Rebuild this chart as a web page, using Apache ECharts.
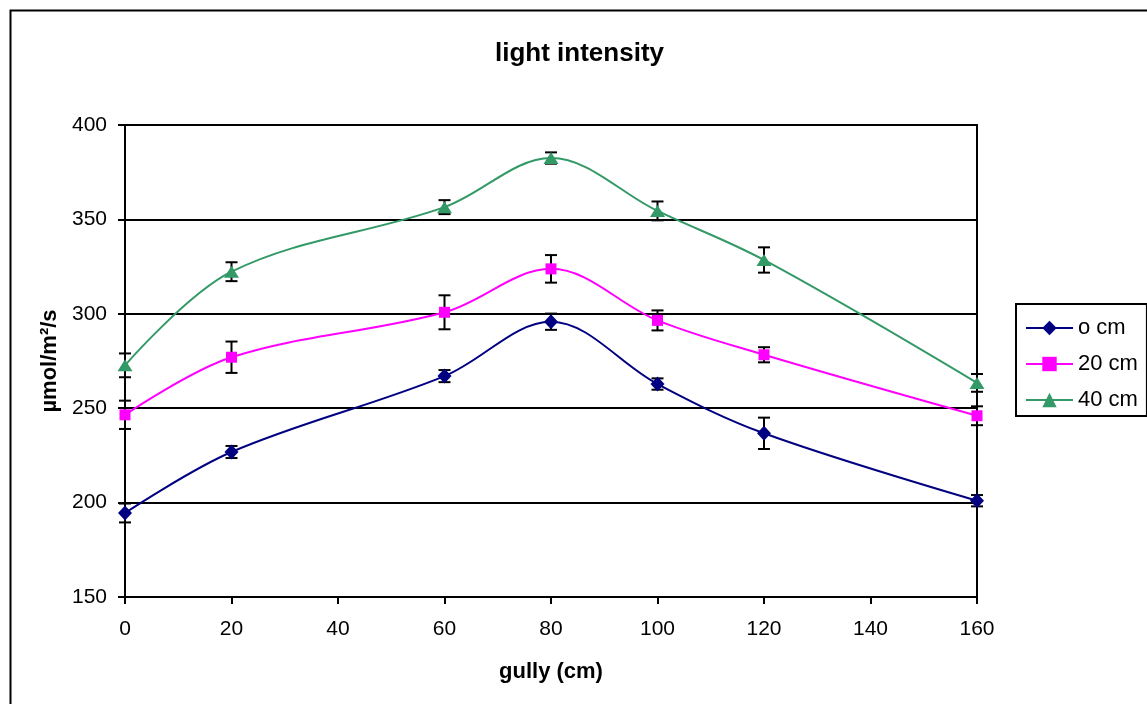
<!DOCTYPE html>
<html>
<head>
<meta charset="utf-8">
<script src="https://cdn.jsdelivr.net/npm/echarts@6/dist/echarts.min.js"></script>
<style>
html,body{margin:0;padding:0;background:#fff;}
#chart{width:1147px;height:704px;}
</style>
</head>
<body>
<div id="chart"></div>
<script>
const positions = [0, 20, 60, 80, 100, 120, 160];
const seriesNames = ['o cm', '20 cm', '40 cm'];
const values0 = [194.5, 226.8, 267.0, 295.8, 262.8, 236.7, 201.0];
const errors0 = [5.0, 3.2, 3.2, 4.3, 3.0, 8.3, 3.0];
const values20 = [246.5, 277.0, 300.8, 323.8, 296.5, 278.3, 246.0];
const errors20 = [7.5, 8.3, 9.0, 7.3, 5.3, 4.0, 5.0];
const values40 = [272.7, 322.3, 356.5, 382.5, 354.5, 328.5, 263.4];
const errors40 = [6.3, 5.0, 3.7, 3.0, 5.0, 6.7, 4.7];
const xTicks = [0, 20, 40, 60, 80, 100, 120, 140, 160];
const yTicks = [150, 200, 250, 300, 350, 400];

const colors = ['#000080', '#FF00FF', '#339966'];
const symbols = ['diamond', 'rect', 'triangle'];
const symbolSizes = [[14, 15], [11, 11], [15, 12]];
const valueSets = [values0, values20, values40];
const errorSets = [errors0, errors20, errors40];

const FONT = '"Liberation Sans", Arial, sans-serif';

function pairs(vals) { return positions.map((x, i) => [x, vals[i]]); }
function errTriples(vals, errs) { return positions.map((x, i) => [x, vals[i], errs[i]]); }

function renderErr(params, api) {
  const x = api.value(0), y = api.value(1), e = api.value(2);
  const top = api.coord([x, y + e]);
  const bot = api.coord([x, y - e]);
  const hw = 6;
  const st = { stroke: '#000', lineWidth: 2 };
  return {
    type: 'group',
    children: [
      { type: 'line', shape: { x1: top[0], y1: top[1], x2: bot[0], y2: bot[1] }, style: st },
      { type: 'line', shape: { x1: top[0] - hw, y1: top[1], x2: top[0] + hw, y2: top[1] }, style: st },
      { type: 'line', shape: { x1: bot[0] - hw, y1: bot[1], x2: bot[0] + hw, y2: bot[1] }, style: st }
    ]
  };
}

const series = [];
seriesNames.forEach((name, k) => {
  series.push({
    name: name,
    type: 'line',
    data: pairs(valueSets[k]),
    smooth: 0.35,
    symbol: symbols[k],
    symbolSize: symbolSizes[k],
    showAllSymbol: true,
    lineStyle: { color: colors[k], width: 2 },
    itemStyle: { color: colors[k] },
    z: 4,
    animation: false
  });
});
seriesNames.forEach((name, k) => {
  series.push({
    name: name + ' error',
    type: 'custom',
    renderItem: renderErr,
    data: errTriples(valueSets[k], errorSets[k]),
    clip: false,
    z: 3,
    silent: true,
    encode: { x: 0, y: 1 }
  });
});

const chart = echarts.init(document.getElementById('chart'));
chart.setOption({
  animation: false,
  backgroundColor: '#fff',
  title: {
    text: 'light intensity',
    left: 490,
    top: 36,
    textStyle: { fontFamily: FONT, fontSize: 26, fontWeight: 'bold', color: '#000' }
  },
  legend: {
    data: seriesNames.slice(),
    orient: 'vertical',
    left: 1016,
    top: 304,
    padding: [13, 9, 5, 9],
    itemGap: 14,
    itemWidth: 47,
    itemHeight: 18,
    borderColor: '#000',
    borderWidth: 2,
    textStyle: { fontFamily: FONT, fontSize: 22, color: '#000' }
  },
  grid: {
    left: 125, top: 125, right: 170, bottom: 107,
    show: true, borderColor: '#000', borderWidth: 2, backgroundColor: '#fff'
  },
  xAxis: {
    type: 'value',
    min: xTicks[0], max: xTicks[xTicks.length - 1], interval: 20,
    name: 'gully (cm)',
    nameLocation: 'middle',
    nameGap: 64,
    nameTextStyle: { fontFamily: FONT, fontSize: 22, fontWeight: 'bold', color: '#000' },
    axisLine: { show: true, onZero: false, lineStyle: { color: '#000', width: 2 } },
    axisTick: { show: true, inside: false, length: 7, lineStyle: { color: '#000', width: 2 } },
    axisLabel: { margin: 22, fontFamily: FONT, fontSize: 21, color: '#000' },
    splitLine: { show: false }
  },
  yAxis: {
    type: 'value',
    min: yTicks[0], max: yTicks[yTicks.length - 1], interval: 50,
    name: 'µmol/m²/s',
    nameLocation: 'middle',
    nameGap: 64,
    nameRotate: 90,
    nameTextStyle: { fontFamily: FONT, fontSize: 22, fontWeight: 'bold', color: '#000' },
    axisLine: { show: true, onZero: false, lineStyle: { color: '#000', width: 2 } },
    axisTick: { show: true, inside: false, length: 7, lineStyle: { color: '#000', width: 2 } },
    axisLabel: { margin: 18, fontFamily: FONT, fontSize: 21, color: '#000' },
    splitLine: { show: true, lineStyle: { color: '#000', width: 2 } }
  },
  graphic: [{
    type: 'rect',
    left: 8, top: 8,
    shape: { width: 1160, height: 720 },
    style: { fill: 'none', stroke: '#000', lineWidth: 2 },
    silent: true,
    z: -1
  }],
  series: series
});
</script>
</body>
</html>
